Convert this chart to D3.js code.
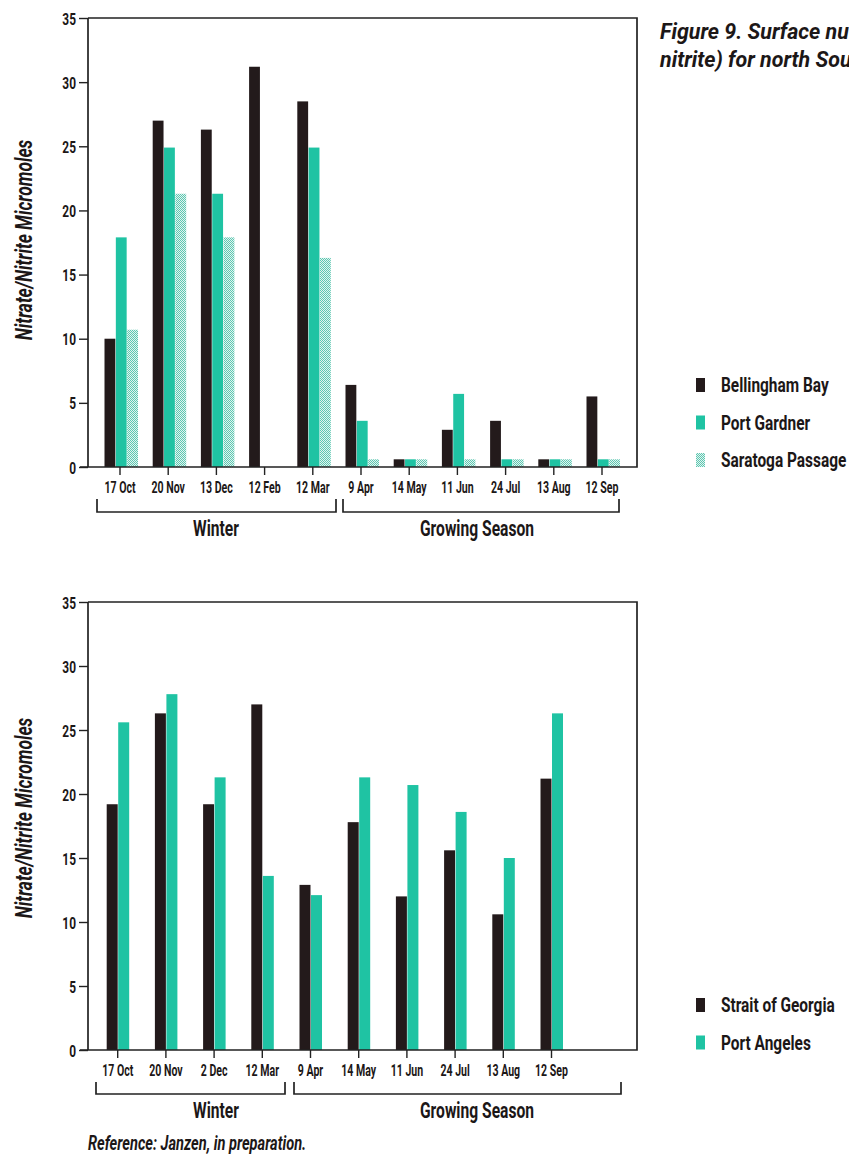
<!DOCTYPE html>
<html>
<head>
<meta charset="utf-8">
<script src="https://cdn.jsdelivr.net/npm/d3@7"></script>
<style>
  html, body { margin: 0; padding: 0; background: #ffffff; }
  svg { display: block; }
  text { font-family: Roboto, "Noto Sans", sans-serif; fill: #1c1717; font-weight: bold; }
</style>
</head>
<body>
<svg id="chart" width="849" height="1157"></svg>
<script>
// ---------- data ----------
const topDates = ["17 Oct", "20 Nov", "13 Dec", "12 Feb", "12 Mar", "9 Apr", "14 May", "11 Jun", "24 Jul", "13 Aug", "12 Sep"];
const topSeries = ["Bellingham Bay", "Port Gardner", "Saratoga Passage"];
const bellinghamBay   = [10.0, 27.0, 26.3, 31.2, 28.5, 6.4, 0.6, 2.9, 3.6, 0.6, 5.5];
const portGardner     = [17.9, 24.9, 21.3, null, 24.9, 3.6, 0.6, 5.7, 0.6, 0.6, 0.6];
const saratogaPassage = [10.7, 21.3, 17.9, null, 16.3, 0.6, 0.6, 0.6, 0.6, 0.6, 0.6];

const bottomDates = ["17 Oct", "20 Nov", "2 Dec", "12 Mar", "9 Apr", "14 May", "11 Jun", "24 Jul", "13 Aug", "12 Sep"];
const bottomSeries = ["Strait of Georgia", "Port Angeles"];
const straitOfGeorgia = [19.2, 26.3, 19.2, 27.0, 12.9, 17.8, 12.0, 15.6, 10.6, 21.2];
const portAngeles     = [25.6, 27.8, 21.3, 13.6, 12.1, 21.3, 20.7, 18.6, 15.0, 26.3];

const yTicks = [0, 5, 10, 15, 20, 25, 30, 35];
const yLabel = "Nitrate/Nitrite Micromoles";
const topSeasons = ["Winter", "Growing Season"];
const bottomSeasons = ["Winter", "Growing Season"];
const titleLines = ["Figure 9. Surface nutrients (nitrate +", "nitrite) for north Sound stations."];
const referenceNote = "Reference: Janzen, in preparation.";

// ---------- styles ----------
const DARK = "#231a1b";
const TEAL = "#1fc3a3";
const AXIS = "#222";

const svg = d3.select("#chart");
const defs = svg.append("defs");
const pat = defs.append("pattern").attr("id", "stipple")
  .attr("patternUnits", "userSpaceOnUse").attr("width", 2).attr("height", 2);
pat.append("rect").attr("width", 2).attr("height", 2).attr("fill", "#e2f4ef");
pat.append("rect").attr("width", 1).attr("height", 1).attr("fill", "#5cc7b2");
pat.append("rect").attr("x", 1).attr("y", 1).attr("width", 1).attr("height", 1).attr("fill", "#5cc7b2");

const fills = {
  "Bellingham Bay": DARK, "Port Gardner": TEAL, "Saratoga Passage": "url(#stipple)",
  "Strait of Georgia": DARK, "Port Angeles": TEAL
};

// condensed text helper (the original uses a condensed typeface)
function tx(parent, x, y, str, o) {
  const t = parent.append("text")
    .attr("transform", `translate(${x},${y})${o.rotate ? " rotate(" + o.rotate + ")" : ""} scale(${o.sx},1)`)
    .attr("font-size", o.size)
    .attr("text-anchor", o.anchor || "start")
    .text(str);
  if (o.italic) t.attr("font-style", "italic");
  return t;
}

function drawPanel(cfg) {
  const g = svg.append("g");
  const x0 = d3.scaleBand().domain(cfg.dates).range(cfg.xRange).paddingInner(0).paddingOuter(0);
  const x1 = d3.scaleBand().domain(cfg.series).range(cfg.subRange).paddingInner(0.045);
  const y = d3.scaleLinear().domain([0, 35]).range([cfg.y0, cfg.yTop]);
  const center = d => x0(d) + x0.bandwidth() / 2;

  // bars
  const rows = [];
  cfg.dates.forEach((d, i) => {
    cfg.series.forEach((s, j) => {
      const v = cfg.values[j][i];
      if (v != null) rows.push({date: d, series: s, value: v});
    });
  });
  g.append("g").selectAll("rect").data(rows).join("rect")
    .attr("x", r => center(r.date) + x1(r.series))
    .attr("width", x1.bandwidth())
    .attr("y", r => y(r.value))
    .attr("height", r => y(0) - y(r.value))
    .attr("fill", r => fills[r.series]);

  // frame
  g.append("path")
    .attr("d", `M${cfg.frameLeft},${cfg.yTop}H${cfg.frameRight}V${cfg.y0}H${cfg.frameLeft - 8}M${cfg.frameLeft},${cfg.y0}V${cfg.yTop}`)
    .attr("fill", "none").attr("stroke", AXIS).attr("stroke-width", 1.7);

  // y axis
  const ySx = 0.7;
  const ya = g.append("g").attr("transform", `translate(${cfg.frameLeft},0)`)
    .call(d3.axisLeft(y).tickValues(yTicks).tickSize(9).tickPadding(3));
  ya.select(".domain").remove();
  ya.selectAll(".tick line").attr("stroke", AXIS).attr("stroke-width", 1.4);
  ya.selectAll(".tick text").attr("font-size", 17).attr("fill", "#1c1717").attr("font-family", null)
    .attr("x", -12 / ySx).attr("dy", "0.36em").attr("transform", `scale(${ySx},1)`);

  // x axis
  const xSx = 0.64;
  const xa = g.append("g").attr("transform", `translate(0,${cfg.y0})`)
    .call(d3.axisBottom(x0).tickSize(8).tickPadding(3));
  xa.select(".domain").remove();
  xa.selectAll(".tick line").attr("stroke", AXIS).attr("stroke-width", 1.4);
  xa.selectAll(".tick text").attr("font-size", 16.5).attr("fill", "#1c1717").attr("font-family", null)
    .attr("y", 26).attr("dy", 0).attr("transform", `scale(${xSx},1)`);

  // season brackets
  cfg.seasons.forEach((s, k) => {
    const bx0 = cfg.bracketX[k][0], bx1 = cfg.bracketX[k][1];
    g.append("path")
      .attr("d", `M${bx0},${cfg.bracketTop}V${cfg.bracketY}H${bx1}V${cfg.bracketTop}`)
      .attr("fill", "none").attr("stroke", AXIS).attr("stroke-width", 1.7);
    tx(g, cfg.seasonX[k], cfg.bracketY + 24, s, {size: 22, sx: 0.71, anchor: "middle"});
  });

  // y label
  tx(g, cfg.yLabelX, cfg.yLabelY, yLabel, {size: 23, sx: 0.76, anchor: "middle", italic: true, rotate: -90});

  // legend
  const lg = g.append("g");
  cfg.series.forEach((s, j) => {
    const by = cfg.legendY + j * 37.5;
    lg.append("rect").attr("x", 696).attr("y", by - 14).attr("width", 9).attr("height", 14)
      .attr("fill", fills[s]);
    tx(lg, 721, by, s, {size: 21, sx: 0.735});
  });
}

drawPanel({
  dates: topDates, series: topSeries,
  values: [bellinghamBay, portGardner, saratogaPassage],
  xRange: [95.9, 95.9 + 48.2 * 11], subRange: [-15.5, 18],
  y0: 467, yTop: 18, frameLeft: 88, frameRight: 637,
  seasons: topSeasons, bracketX: [[97, 336], [343, 619]], seasonX: [216, 477],
  bracketTop: 499, bracketY: 512, yLabelX: 32, yLabelY: 240, legendY: 392
});

drawPanel({
  dates: bottomDates, series: bottomSeries,
  values: [straitOfGeorgia, portAngeles],
  xRange: [93.6, 93.6 + 48.2 * 10], subRange: [-11, 11.5],
  y0: 1050, yTop: 602, frameLeft: 88, frameRight: 637,
  seasons: bottomSeasons, bracketX: [[96, 285], [294, 621]], seasonX: [216, 477],
  bracketTop: 1082, bracketY: 1094, yLabelX: 32, yLabelY: 818, legendY: 1012
});

// title (runs off the right edge, as in the original page):
// scaled so that "Figure 9. Surface nu" reaches the page edge
const titleX = 660, titleSize = 22;
const probe = svg.append("text").attr("font-size", titleSize).attr("font-style", "italic").text("Figure 9. Surface nu");
const probeW = probe.node().getComputedTextLength();
probe.remove();
const titleSx = (849 - titleX) / probeW;
titleLines.forEach((t, i) => {
  tx(svg, titleX, 39 + i * 28, t, {size: titleSize, sx: titleSx, italic: true});
});

// reference note
tx(svg, 88, 1150, referenceNote, {size: 20, sx: 0.73, italic: true});
</script>
</body>
</html>
